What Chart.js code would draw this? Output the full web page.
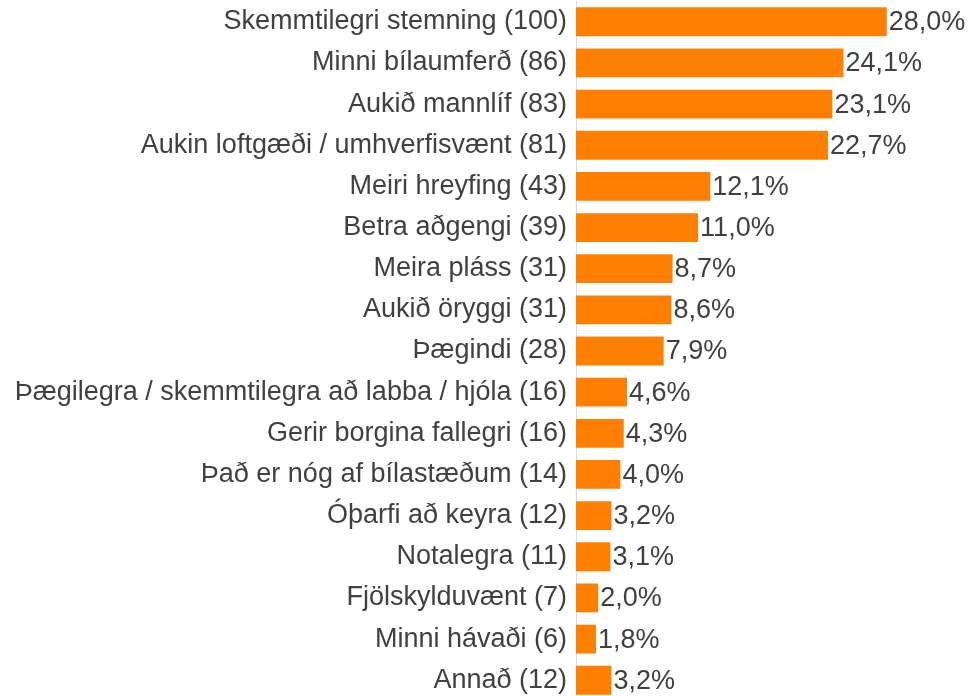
<!DOCTYPE html>
<html>
<head>
<meta charset="utf-8">
<script src="https://cdn.jsdelivr.net/npm/chart.js@4.4.1/dist/chart.umd.min.js"></script>
<style>
html,body{margin:0;padding:0;background:#fff;overflow:hidden;width:972px;height:696px;}
#wrap{position:absolute;left:0;top:0;width:972px;height:696px;overflow:hidden;}
#c{position:absolute;left:0;top:0;}
</style>
</head>
<body>
<div id="wrap"><canvas id="c" width="972" height="750"></canvas></div>
<script>
const categories = [
  "Skemmtilegri stemning",
  "Minni bílaumferð",
  "Aukið mannlíf",
  "Aukin loftgæði / umhverfisvænt",
  "Meiri hreyfing",
  "Betra aðgengi",
  "Meira pláss",
  "Aukið öryggi",
  "Þægindi",
  "Þægilegra / skemmtilegra að labba / hjóla",
  "Gerir borgina fallegri",
  "Það er nóg af bílastæðum",
  "Óþarfi að keyra",
  "Notalegra",
  "Fjölskylduvænt",
  "Minni hávaði",
  "Annað"
];
const counts = [100, 86, 83, 81, 43, 39, 31, 31, 28, 16, 16, 14, 12, 11, 7, 6, 12];
const percentages = [28.0, 24.1, 23.1, 22.7, 12.1, 11.0, 8.7, 8.6, 7.9, 4.6, 4.3, 4.0, 3.2, 3.1, 2.0, 1.8, 3.2];

const labels = categories.map((c, i) => c + " (" + counts[i] + ")");
const FONT = "'Liberation Sans', Arial, sans-serif";
const TEXT = "#404040";
const FS = 27;

const valueLabels = {
  id: "valueLabels",
  afterDatasetsDraw(chart) {
    const ctx = chart.ctx;
    const meta = chart.getDatasetMeta(0);
    ctx.save();
    ctx.font = FS + "px " + FONT;
    ctx.fillStyle = TEXT;
    ctx.textAlign = "left";
    ctx.textBaseline = "middle";
    meta.data.forEach((bar, i) => {
      const txt = percentages[i].toFixed(1).replace(".", ",") + "%";
      ctx.fillText(txt, bar.x + 2, bar.y + 1);
    });
    ctx.restore();
  }
};

const canvas = document.getElementById("c");
const chart = new Chart(canvas, {
  type: "bar",
  data: {
    labels: labels,
    datasets: [{
      data: percentages,
      backgroundColor: "#FF8000",
      borderWidth: 0,
      barPercentage: 0.7,
      categoryPercentage: 1.0
    }]
  },
  options: {
    indexAxis: "y",
    responsive: false,
    animation: false,
    events: [],
    layout: { padding: { top: 0, right: 63, bottom: 0, left: 0 } },
    plugins: { legend: { display: false }, tooltip: { enabled: false } },
    scales: {
      x: { display: false, min: 0, max: 30 },
      y: {
        afterFit(scale) { scale.width = 576; },
        grid: { display: false, drawTicks: false },
        border: { display: true, color: "#e9d6c8", width: 1 },
        ticks: {
          color: TEXT,
          padding: 9,
          autoSkip: false,
          font: { family: FONT, size: FS }
        }
      }
    }
  },
  plugins: [valueLabels]
});

// fit the plot area so that it spans y = 1 .. 705 of the page
const targetTop = 1, targetH = 704;
let a = chart.chartArea;
const extra = canvas.height - (a.bottom - a.top);
chart.resize(972, targetH + extra);
a = chart.chartArea;
canvas.style.top = (targetTop - a.top) + "px";
</script>
</body>
</html>
